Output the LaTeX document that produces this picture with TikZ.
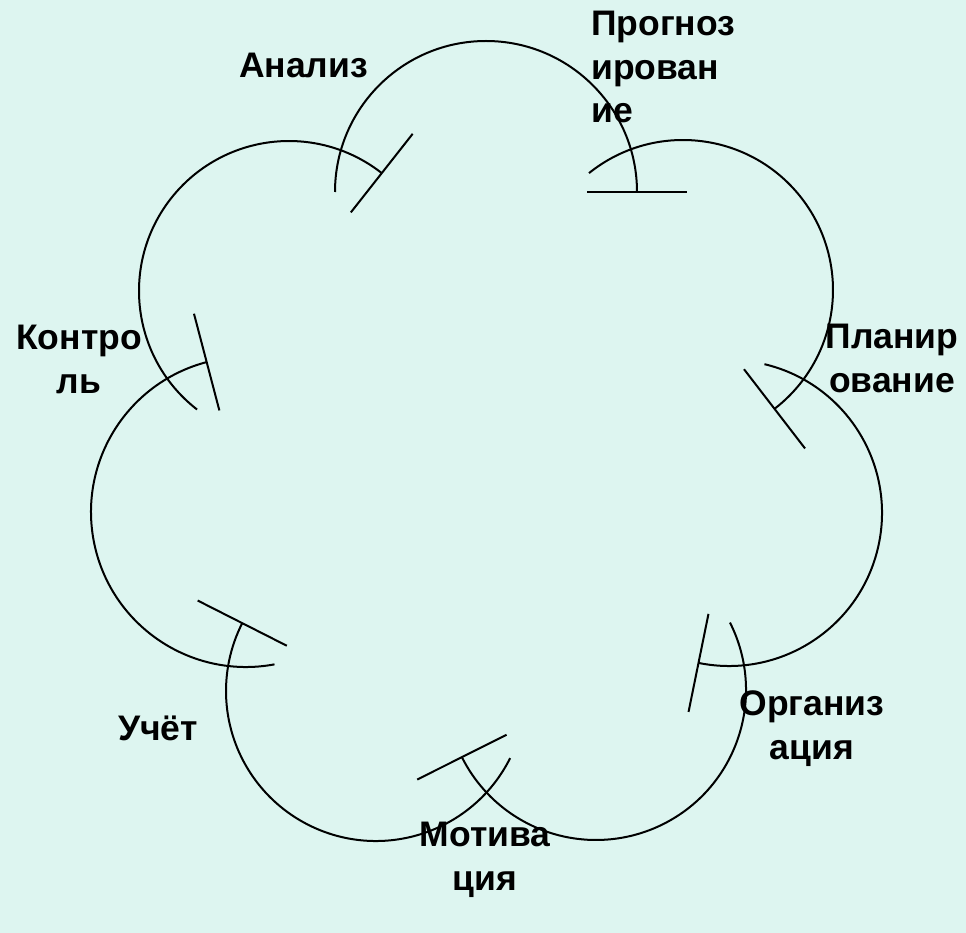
\documentclass[tikz,border=0pt]{standalone}
\usepackage{fontspec}
\setmainfont{Liberation Sans}
\definecolor{bgmint}{RGB}{221,245,240}
\begin{document}
\begin{tikzpicture}[x=1pt,y=-1pt,
  arcline/.style={line width=2pt,draw=black},
  capline/.style={line width=2pt,draw=black},
  lbl/.style={inner sep=0pt,font=\fontsize{35.5}{43.5}\selectfont\bfseries,text=black,anchor=base}]
\fill[bgmint] (0,0) rectangle (966,933);
\useasboundingbox (0,0) rectangle (966,933);
% centres of the seven arcs
\coordinate (c1) at (486,192);
\coordinate (c2) at (683,290);
\coordinate (c3) at (729,513);
\coordinate (c4) at (596,690);
\coordinate (c5) at (376,691);
\coordinate (c6) at (246,512);
\coordinate (c7) at (289,291);
% arc 1
\draw[arcline] ([shift={(180:151)}]c1) arc[start angle=180,end angle=360,radius=151];
\draw[capline] ([shift={(360:101)}]c1) -- ([shift={(360:201)}]c1);
% arc 2
\draw[arcline] ([shift={(231.2:150)}]c2) arc[start angle=231.2,end angle=412.4,radius=150];
\draw[capline] ([shift={(412.4:100)}]c2) -- ([shift={(412.4:200)}]c2);
% arc 3
\draw[arcline] ([shift={(283.4:153)}]c3) arc[start angle=283.4,end angle=461.5,radius=153];
\draw[capline] ([shift={(461.5:103)}]c3) -- ([shift={(461.5:203)}]c3);
% arc 4
\draw[arcline] ([shift={(-26.7:150)}]c4) arc[start angle=-26.7,end angle=153.4,radius=150];
\draw[capline] ([shift={(153.4:100)}]c4) -- ([shift={(153.4:200)}]c4);
% arc 5
\draw[arcline] ([shift={(26.6:150)}]c5) arc[start angle=26.6,end angle=206.9,radius=150];
\draw[capline] ([shift={(206.9:100)}]c5) -- ([shift={(206.9:200)}]c5);
% arc 6
\draw[arcline] ([shift={(79.4:155)}]c6) arc[start angle=79.4,end angle=255.3,radius=155];
\draw[capline] ([shift={(255.3:105)}]c6) -- ([shift={(255.3:205)}]c6);
% arc 7
\draw[arcline] ([shift={(127.8:150)}]c7) arc[start angle=127.8,end angle=308.2,radius=150];
\draw[capline] ([shift={(308.2:100)}]c7) -- ([shift={(308.2:200)}]c7);
% labels (base anchor = baseline of the last line)
\node[lbl] (analiz) at (303.5,78) {Анализ};
\node[lbl,anchor=base west,align=left] (prognoz) at (591,123) {Прогноз\\ирован\\ие};
\node[lbl,align=center] (plan) at (892,392) {Планир\\ование};
\node[lbl,align=center] (org) at (812,759) {Организ\\ация};
\node[lbl,align=center] (motiv) at (485,890) {Мотива\\ция};
\node[lbl] (uchet) at (158,740) {Учёт};
\node[lbl,align=center] (kontrol) at (79,393) {Контро\\ль};
\end{tikzpicture}
\end{document}
